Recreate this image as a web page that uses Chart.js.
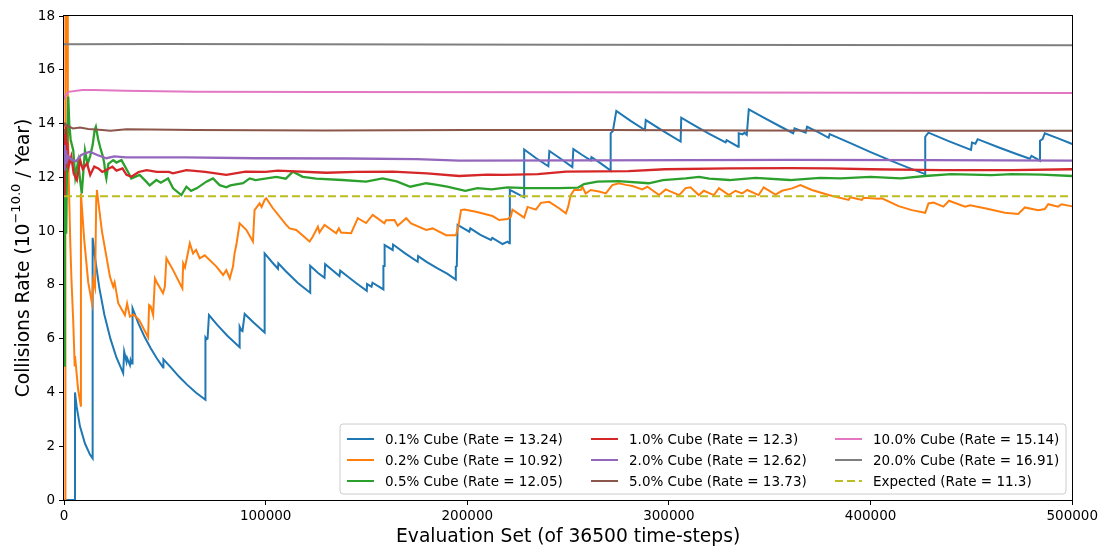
<!DOCTYPE html>
<html>
<head>
<meta charset="utf-8">
<script src="https://cdn.jsdelivr.net/npm/chart.js@4.4.1/dist/chart.umd.min.js"></script>
<style>
  html, body { margin: 0; padding: 0; background: #fff; }
  canvas { display: block; }
</style>
</head>
<body>
<canvas id="chart" width="1101" height="550"></canvas>
<script>
// Axis ticks
const xTickValues = [0, 100000, 200000, 300000, 400000, 500000];
const yTickValues = [0, 2, 4, 6, 8, 10, 12, 14, 16, 18];

// Series labels (legend text)
const seriesLabels = [
  '0.1% Cube (Rate = 13.24)',
  '0.2% Cube (Rate = 10.92)',
  '0.5% Cube (Rate = 12.05)',
  '1.0% Cube (Rate = 12.3)',
  '2.0% Cube (Rate = 12.62)',
  '5.0% Cube (Rate = 13.73)',
  '10.0% Cube (Rate = 15.14)',
  '20.0% Cube (Rate = 16.91)',
  'Expected (Rate = 11.3)'
];

// Running collision rate per evaluation set: [evaluation set, rate]
const cube01 = [
  [0,0],[5450,0],[5450,4.0],[6270,3.47],[7920,2.74],[10400,2.1],[12870,1.69],[14200,1.55],
  [14200,9.75],[15500,8.95],[17500,7.9],[20000,6.9],[23000,6.0],[26000,5.3],[29350,4.72],
  [29850,5.52],[31000,5.14],[31300,5.28],[32700,5.02],[33000,5.2],[33500,5.08],[34000,5.08],
  [34000,7.13],[37000,6.55],[40000,6.06],[43000,5.64],[46000,5.27],[49150,4.93],
  [49300,5.23],[53000,4.93],[57000,4.59],[61000,4.29],[65500,3.99],[70140,3.73],
  [70140,6.05],[70800,5.98],[71200,6.0],[71900,6.88],[76000,6.51],[81000,6.11],[87100,5.68],
  [87100,6.45],[88000,6.3],[88500,6.28],[89600,6.92],[94000,6.6],[99500,6.23],
  [99500,9.17],[103000,8.86],[106100,8.6],[106300,8.8],[110000,8.51],[116000,8.07],[122100,7.71],
  [122100,8.71],[126000,8.44],[129200,8.26],[129500,8.77],[133000,8.55],[136600,8.33],[137000,8.53],
  [141000,8.29],[145000,8.06],[150150,7.78],[150300,8.03],[152500,7.93],[153000,8.08],[158400,7.83],
  [158400,8.7],[158900,8.7],[159000,9.48],[163000,9.3],[163200,9.5],[169000,9.18],[175400,8.86],
  [175600,9.07],[180000,8.85],[185000,8.62],[190000,8.42],[194300,8.2],
  [194300,8.68],[194800,8.7],[195200,10.23],[201000,9.98],[201500,10.1],[206500,9.86],[211700,9.67],
  [212400,9.75],[217500,9.52],[220000,9.61],[220800,9.55],[221100,11.53],[227100,11.3],[228200,11.26],
  [228200,13.04],[234000,12.72],[240200,12.41],[240700,12.98],[246500,12.68],[252100,12.38],
  [252600,13.05],[257000,12.83],[261200,12.63],[261600,12.75],[266000,12.53],[271100,12.25],
  [271100,13.64],[272200,13.72],[273900,14.47],[281000,14.1],[288100,13.76],[288500,14.13],
  [297000,13.73],[305800,13.33],[306100,14.22],[311500,13.98],[320000,13.62],[328100,13.3],
  [328600,13.38],[334300,13.14],[334600,13.64],[336500,13.6],[337500,13.66],[338600,13.58],
  [339600,14.53],[347000,14.22],[355000,13.9],[361600,13.64],[362300,13.82],[367800,13.66],
  [368500,13.88],[374000,13.68],[379200,13.47],[379700,13.61],[390000,13.27],[400000,12.94],
  [410000,12.62],[418000,12.38],[427100,12.12],[427100,13.51],[428700,13.66],[439000,13.34],
  [449800,13.02],[450300,13.29],[452000,13.25],[453100,13.42],[463000,13.13],[473000,12.85],
  [479000,12.69],[479800,12.8],[484000,12.62],[484000,13.36],[485300,13.42],[486400,13.64],
  [493000,13.45],[500000,13.24]
];

const cube02 = [
  [0,0],[700,0],[700,38],[1000,27],[1490,18],[1900,14.3],[2330,12.0],[3120,9.55],[3700,8.2],
  [4600,6.6],[5300,5.0],[5450,5.35],[5900,5.0],[7000,4.1],[8400,3.47],
  [8400,11.4],[10000,9.7],[12000,8.1],[13860,7.32],[14500,8.18],[15400,7.9],[16000,11.28],[16300,11.53],
  [18800,10.0],[22800,8.3],[24400,7.93],[25100,8.1],[26900,7.32],[30200,6.88],[31300,7.31],
  [32700,6.82],[34500,6.9],[37300,6.69],[41700,6.05],[42200,7.25],[43000,7.2],[44200,6.88],
  [45100,8.24],[46000,8.1],[49100,7.69],[50000,7.93],[50800,8.99],[54100,8.55],[58700,7.87],
  [59100,8.8],[60000,8.65],[62400,9.55],[64000,9.17],[65500,9.3],[67300,8.99],[69800,9.1],
  [75600,8.68],[78900,8.37],[80500,8.55],[82200,8.24],[83800,8.68],[84600,9.18],[85500,9.5],
  [87100,10.29],[90400,10.05],[93700,9.61],[94500,10.78],[97000,11.03],[98000,10.9],[99500,11.16],
  [100300,11.22],[103600,10.85],[110200,10.23],[111900,10.1],[115200,10.04],[121800,9.61],
  [123400,9.8],[125900,10.16],[126700,9.95],[129200,10.23],[135000,9.92],[136300,10.1],
  [137400,9.95],[142400,9.92],[145700,10.48],[149800,10.3],[153100,10.6],[158900,10.29],
  [159700,10.4],[163900,10.41],[165500,10.2],[169700,10.48],[172100,10.29],[179600,10.04],
  [182800,10.1],[189500,9.85],[194400,9.85],[195700,10.23],[196900,10.78],[198500,10.8],
  [204300,10.72],[212500,10.56],[215800,10.41],[220000,10.45],[221600,10.54],[222400,10.8],
  [228200,10.5],[229900,10.9],[234000,10.8],[236500,11.05],[240600,11.09],[245500,10.85],
  [248900,10.66],[250000,10.9],[251300,11.34],[253000,11.53],[256300,11.53],[257100,11.65],
  [258700,11.4],[261200,11.53],[265300,11.47],[268700,11.4],[271900,11.71],[275200,11.78],
  [278600,11.72],[281900,11.68],[286800,11.55],[289300,11.65],[295100,11.34],[298400,11.55],
  [305000,11.34],[308300,11.6],[310700,11.63],[314800,11.34],[317300,11.5],[322300,11.34],
  [324800,11.6],[329700,11.34],[333000,11.5],[336300,11.4],[338800,11.53],[344500,11.34],
  [347000,11.63],[352800,11.36],[356100,11.5],[361100,11.59],[365200,11.71],[370900,11.53],
  [379200,11.34],[389100,11.16],[389900,11.26],[395700,11.16],[396500,11.24],[403900,11.2],
  [405600,11.22],[413900,10.93],[420500,10.78],[427100,10.68],[428700,11.03],[431200,11.06],
  [436100,10.91],[438900,11.13],[446900,10.91],[449300,10.96],[456700,10.85],[466600,10.68],
  [473200,10.64],[476500,10.88],[483100,10.78],[486400,10.82],[488100,11.0],[493000,10.91],
  [494700,11.0],[500000,10.92]
];

const cube05 = [
  [0,5.0],[400,13.8],[700,12.2],[1100,9.9],[1500,12.5],[2100,15.0],[2600,14.0],[3300,13.4],
  [4600,13.0],[5600,12.0],[7000,12.6],[8000,11.9],[8800,11.4],[10400,13.0],[11700,12.5],
  [13000,12.8],[14200,13.2],[15200,13.76],[15800,13.88],[17000,13.4],[18000,13.1],[19300,12.77],
  [20000,12.5],[20500,12.15],[21000,11.96],[22000,12.5],[24400,12.64],[26000,12.55],[28500,12.64],
  [31700,12.21],[33400,11.96],[37500,12.09],[40800,11.84],[42500,11.7],[45800,11.9],[48000,11.8],
  [51600,11.96],[54100,11.59],[58200,11.34],[60700,11.65],[63000,11.5],[66000,11.6],[70600,11.84],
  [73900,11.96],[77200,11.71],[80500,11.63],[82500,11.7],[88800,11.78],[92100,11.96],[95000,11.9],
  [105300,12.02],[110000,11.95],[113500,12.21],[118400,12.02],[125000,11.95],[138000,11.9],
  [149800,11.84],[158000,11.96],[165000,11.85],[171700,11.65],[179600,11.78],[185000,11.72],
  [190000,11.65],[199000,11.5],[205000,11.6],[212000,11.55],[220000,11.63],[230000,11.6],
  [245000,11.6],[255000,11.62],[257900,11.75],[264500,11.84],[275000,11.86],[290000,11.78],
  [297000,11.9],[308300,11.96],[315000,12.02],[320000,11.95],[330000,11.9],[343000,11.98],
  [360000,11.9],[375000,11.98],[385000,11.96],[400000,12.02],[415000,11.96],[427000,12.05],
  [440000,12.12],[460000,12.08],[470000,12.12],[485000,12.1],[500000,12.05]
];

const cube10 = [
  [0,11.3],[300,13.6],[600,12.4],[900,13.9],[1200,12.8],[1600,13.3],[2300,12.4],[3600,12.77],
  [4800,12.15],[6400,11.9],[8000,12.64],[9300,12.3],[11400,12.52],[13000,12.09],[15000,12.4],
  [17000,12.33],[19000,12.2],[21000,12.27],[24000,12.4],[26000,12.25],[29000,12.33],[31000,12.09],
  [33400,12.02],[37000,12.2],[41000,12.27],[46000,12.2],[52000,12.2],[54000,12.15],[60700,12.27],
  [70000,12.2],[80500,12.09],[90000,12.21],[100000,12.2],[106000,12.25],[130000,12.17],
  [145000,12.2],[163000,12.21],[180000,12.15],[196000,12.05],[210000,12.1],[218000,12.09],
  [235000,12.12],[249000,12.21],[280000,12.23],[298000,12.3],[330000,12.33],[360000,12.34],
  [380000,12.33],[400000,12.3],[425000,12.28],[436000,12.27],[470000,12.27],[500000,12.3]
];

const cube20 = [
  [0,12.3],[300,13.2],[600,12.5],[1000,13.0],[1600,12.64],[2300,12.77],[4000,12.64],[6000,12.6],
  [8500,12.83],[12800,12.95],[16500,12.83],[21000,12.71],[25000,12.78],[30700,12.74],[60000,12.74],
  [95000,12.71],[140000,12.7],[175000,12.68],[196000,12.62],[260000,12.63],[360000,12.65],
  [430000,12.64],[500000,12.62]
];

const cube50 = [
  [0,13.9],[500,14.0],[2000,13.9],[4500,13.82],[8000,13.85],[12000,13.8],[19000,13.76],
  [23000,13.73],[31000,13.79],[65000,13.76],[130000,13.74],[200000,13.76],[270000,13.76],
  [340000,13.74],[420000,13.73],[500000,13.73]
];

const cube100 = [
  [0,14.9],[800,15.06],[2300,15.18],[9000,15.25],[15000,15.25],[30000,15.22],[65000,15.18],
  [130000,15.17],[260000,15.16],[400000,15.15],[500000,15.14]
];

const cube200 = [
  [0,16.95],[50000,16.96],[250000,16.93],[500000,16.91]
];

const expected = [
  [0,11.3],[500000,11.3]
];

const seriesData = [cube01, cube02, cube05, cube10, cube20, cube50, cube100, cube200, expected];
const seriesColors = ['#1f77b4','#ff7f0e','#2ca02c','#d62728','#9467bd','#8c564b','#e377c2','#7f7f7f','#bcbd22'];

const FONT = "'DejaVu Sans', sans-serif";

const datasets = seriesData.map((d, i) => ({
  label: seriesLabels[i],
  data: d,
  borderColor: seriesColors[i],
  backgroundColor: seriesColors[i],
  borderWidth: (i >= 2 && i <= 4) ? 2.3 : 2,
  borderDash: i === 8 ? [8, 4] : [],
  pointRadius: 0,
  pointHoverRadius: 0,
  tension: 0,
  fill: false,
  order: seriesData.length - i   // later series drawn on top
}));

// Frame, axis titles and legend box
const decorations = {
  id: 'decorations',
  afterDraw(chart) {
    const { ctx, chartArea: a } = chart;
    ctx.save();

    // frame
    ctx.strokeStyle = '#000';
    ctx.lineWidth = 1;
    ctx.strokeRect(Math.round(a.left) - 0.5, Math.round(a.top) - 0.5,
                   Math.round(a.right - a.left) + 1, Math.round(a.bottom - a.top) + 1);

    // x title
    ctx.fillStyle = '#000';
    ctx.font = '18.7px ' + FONT;
    ctx.textAlign = 'center';
    ctx.textBaseline = 'middle';
    ctx.fillText('Evaluation Set (of 36500 time-steps)', (a.left + a.right) / 2, 537);

    // y title with superscript exponent
    const p1 = 'Collisions Rate (10', sup = '\u221210.0', p3 = ' / Year)';
    const mainFont = '18.7px ' + FONT, supFont = '13px ' + FONT;
    ctx.font = mainFont; const w1 = ctx.measureText(p1).width, w3 = ctx.measureText(p3).width;
    ctx.font = supFont; const w2 = ctx.measureText(sup).width;
    const total = w1 + w2 + w3;
    ctx.translate(22, (a.top + a.bottom) / 2);
    ctx.rotate(-Math.PI / 2);
    ctx.textAlign = 'left';
    ctx.textBaseline = 'middle';
    let x = -total / 2;
    ctx.font = mainFont; ctx.fillText(p1, x, 2); x += w1;
    ctx.font = supFont; ctx.fillText(sup, x, -5); x += w2;
    ctx.font = mainFont; ctx.fillText(p3, x, 2);
    ctx.restore();

    // legend
    ctx.save();
    const bx = 340, by = 424, bw = 726, bh = 70, r = 3;
    ctx.beginPath();
    ctx.moveTo(bx + r, by);
    ctx.arcTo(bx + bw, by, bx + bw, by + bh, r);
    ctx.arcTo(bx + bw, by + bh, bx, by + bh, r);
    ctx.arcTo(bx, by + bh, bx, by, r);
    ctx.arcTo(bx, by, bx + bw, by, r);
    ctx.closePath();
    ctx.fillStyle = 'rgba(255,255,255,0.8)';
    ctx.fill();
    ctx.strokeStyle = '#cccccc';
    ctx.lineWidth = 1;
    ctx.stroke();

    const colX = [347, 591, 835];
    const rowY = [439, 460, 481];
    ctx.font = '13.5px ' + FONT;
    ctx.textAlign = 'left';
    ctx.textBaseline = 'middle';
    chart.data.datasets.forEach((ds, i) => {
      const cx = colX[Math.floor(i / 3)], cy = rowY[i % 3];
      ctx.strokeStyle = ds.borderColor;
      ctx.lineWidth = 2;
      ctx.setLineDash(ds.borderDash || []);
      ctx.beginPath();
      ctx.moveTo(cx, cy);
      ctx.lineTo(cx + 27, cy);
      ctx.stroke();
      ctx.setLineDash([]);
      ctx.fillStyle = '#000';
      ctx.fillText(ds.label, cx + 38, cy + 1);
    });
    ctx.restore();
  }
};

new Chart(document.getElementById('chart'), {
  type: 'line',
  data: { datasets },
  options: {
    responsive: false,
    animation: false,
    devicePixelRatio: 1,
    events: [],
    layout: { padding: { left: 0, right: 27, top: 16, bottom: 0 } },
    plugins: { legend: { display: false }, tooltip: { enabled: false } },
    scales: {
      x: {
        type: 'linear',
        min: 0, max: 500000,
        afterBuildTicks: s => { s.ticks = xTickValues.map(v => ({ value: v })); },
        afterFit: s => { s.height = 50; },
        grid: { display: true, drawOnChartArea: false, drawTicks: true, tickLength: 5, color: '#000', lineWidth: 1 },
        border: { display: false },
        ticks: { color: '#000', font: { family: FONT, size: 13.5 }, padding: 3, maxRotation: 0, autoSkip: false,
                 callback: v => String(v) },
        title: { display: false }
      },
      y: {
        type: 'linear',
        min: 0, max: 18,
        afterBuildTicks: s => { s.ticks = yTickValues.map(v => ({ value: v })); },
        afterFit: s => { s.width = 64; },
        grid: { display: true, drawOnChartArea: false, drawTicks: true, tickLength: 5, color: '#000', lineWidth: 1 },
        border: { display: false },
        ticks: { color: '#000', font: { family: FONT, size: 13.5 }, padding: 4, autoSkip: false,
                 callback: v => String(v) },
        title: { display: false }
      }
    }
  },
  plugins: [decorations]
});
</script>
</body>
</html>
